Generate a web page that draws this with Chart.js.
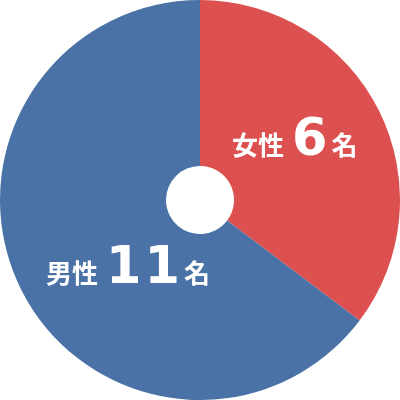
<!DOCTYPE html>
<html><head><meta charset="utf-8">
<script src="https://cdn.jsdelivr.net/npm/chart.js@4.4.0/dist/chart.umd.min.js"></script>
<style>html,body{margin:0;padding:0;background:#fff}#w{width:400px;height:400px}</style>
</head><body><div id="w"><canvas id="c"></canvas></div>
<script>
const categories = ["女性", "男性"];
const values = [6, 11];
const unit = "名";
const colors = ["#DC5050", "#4A72A6"];

const labelPlugin = {
  id: 'lbl',
  afterDatasetsDraw(chart) {
    const ctx = chart.ctx;
    const meta = chart.getDatasetMeta(0);
    const pos = [[232, 155], [46, 283]];
    meta.data.forEach((arc, i) => {
      const smallFont = 'bold 26px "Noto Sans CJK JP", sans-serif';
      const bigFont = 'bold 51px "DejaVu Sans", sans-serif';
      const b = String(values[i]);
      ctx.save();
      ctx.fillStyle = '#fff';
      ctx.textBaseline = 'alphabetic';
      let x = pos[i][0];
      const y = pos[i][1];
      ctx.font = smallFont;
      ctx.fillText(categories[i], x, y);
      x += ctx.measureText(categories[i]).width + 8;
      ctx.font = bigFont;
      for (const ch of b) { ctx.fillText(ch, x, y); x += ctx.measureText(ch).width + 3; }
      x += 1;
      ctx.font = smallFont;
      ctx.fillText(unit, x, y);
      ctx.restore();
    });
  }
};

new Chart(document.getElementById('c'), {
  type: 'doughnut',
  data: {
    labels: categories,
    datasets: [{ data: values, backgroundColor: colors, borderWidth: 0 }]
  },
  options: {
    responsive: true,
    maintainAspectRatio: false,
    animation: false,
    cutout: '17%',
    layout: { padding: 0 },
    plugins: { legend: { display: false }, tooltip: { enabled: false } }
  },
  plugins: [labelPlugin]
});
</script>
</body></html>
